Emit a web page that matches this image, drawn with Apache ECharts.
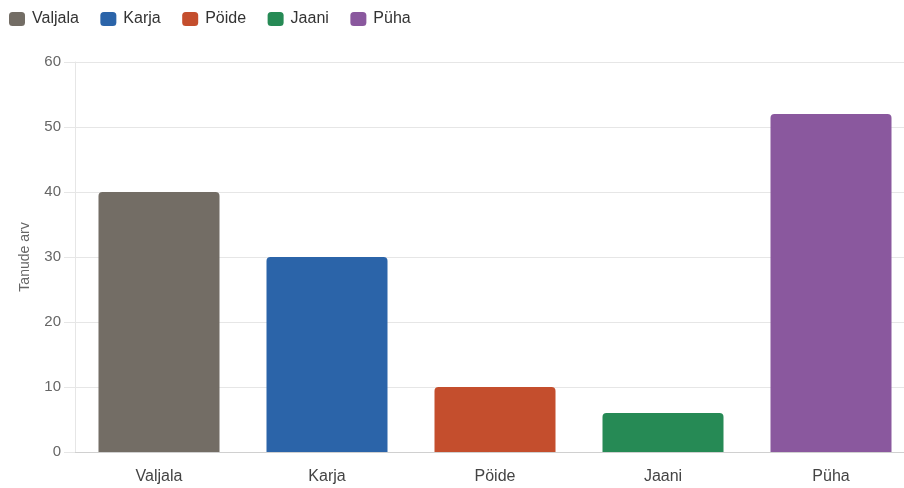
<!DOCTYPE html>
<html><head><meta charset="utf-8">
<script src="https://cdn.jsdelivr.net/npm/echarts@6/dist/echarts.min.js"></script>
<style>html,body{margin:0;padding:0;background:#fff}#c{width:904px;height:488px}</style>
</head><body><div id="c"></div>
<script>
const categories = ['Valjala', 'Karja', 'Pöide', 'Jaani', 'Püha'];
const values = [40, 30, 10, 6, 52];
const colors = ['#736d65', '#2b64a9', '#c44e2d', '#268a55', '#8a589e'];
const yTicks = { min: 0, max: 60, interval: 10 };
const yName = 'Tanude arv';

const series = categories.map((name, i) => ({
  name: name,
  type: 'bar',
  stack: 'all',
  barWidth: 121,
  itemStyle: { color: colors[i], borderRadius: [4, 4, 0, 0] },
  data: categories.map((c, j) => (j === i ? values[i] : null))
}));

const chart = echarts.init(document.getElementById('c'), null, { renderer: 'canvas' });
chart.setOption({
  animation: false,
  textStyle: { fontFamily: 'Liberation Sans, Arial, sans-serif' },
  color: colors,
  legend: {
    left: 4, top: 6, itemWidth: 16, itemHeight: 14, itemGap: 21.5,
    icon: 'roundRect',
    textStyle: { fontSize: 16, color: '#333', padding: [0, 0, 0, 2] },
    data: categories
  },
  grid: { left: 75, top: 62, width: 840, height: 390, containLabel: false, outerBoundsMode: 'none' },
  xAxis: {
    type: 'category', data: categories,
    axisLine: { lineStyle: { color: '#d0d0d0' } },
    axisTick: { show: false },
    axisLabel: { fontSize: 16, color: '#444', margin: 17 }
  },
  yAxis: {
    type: 'value', min: yTicks.min, max: yTicks.max, interval: yTicks.interval,
    name: yName, nameLocation: 'middle', nameGap: 43,
    nameTextStyle: { fontSize: 14, color: '#666' },
    axisLine: { show: true, lineStyle: { color: '#e6e6e6' } },
    axisTick: { show: true, length: 11, lineStyle: { color: '#e6e6e6' } },
    axisLabel: { fontSize: 15, color: '#666', margin: 14 },
    splitLine: { lineStyle: { color: '#e6e6e6' } }
  },
  series: series
});
</script></body></html>
